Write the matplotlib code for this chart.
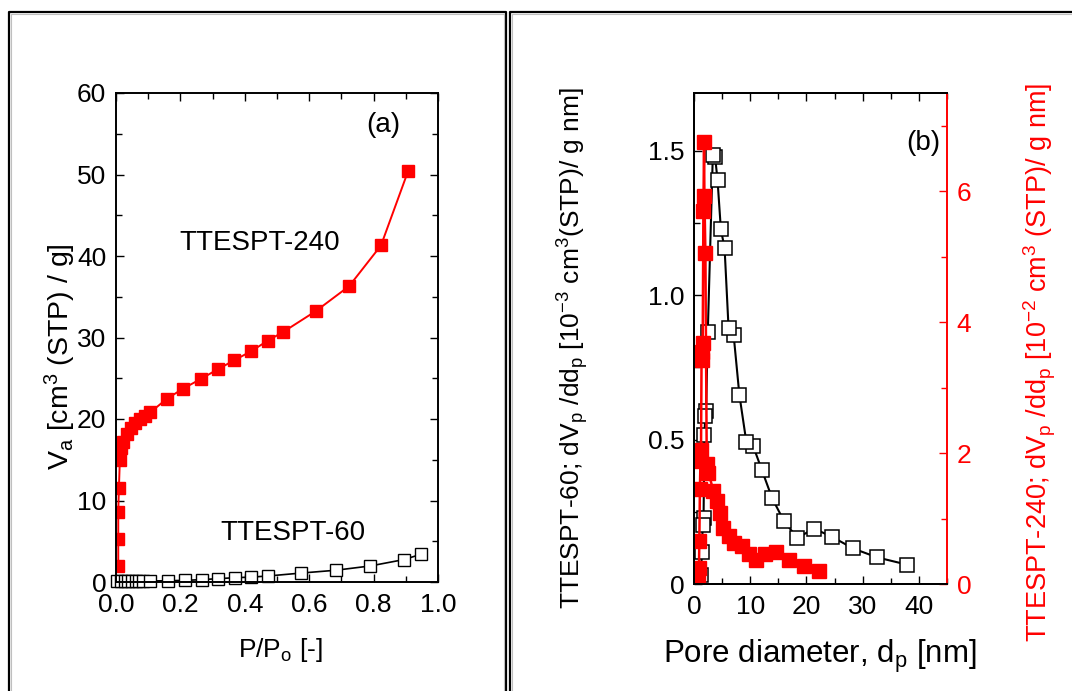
import numpy as np
import matplotlib.pyplot as plt
from matplotlib.lines import Line2D
from matplotlib.ticker import MultipleLocator, FuncFormatter

plt.rcParams['font.family'] = ['Liberation Sans', 'DejaVu Sans']
plt.rcParams['mathtext.fontset'] = 'custom'
plt.rcParams['mathtext.rm'] = 'Liberation Sans'
plt.rcParams['mathtext.it'] = 'Liberation Sans:italic'
plt.rcParams['mathtext.default'] = 'regular'
plt.rcParams['axes.unicode_minus'] = False

# (a) isothermes d'adsorption
p_240 = [0.007, 0.007, 0.007, 0.009, 0.012, 0.017, 0.023, 0.033, 0.048, 0.059, 0.075, 0.09,
         0.106, 0.157, 0.207, 0.263, 0.316, 0.367, 0.419, 0.471, 0.52, 0.621, 0.724, 0.823, 0.907]
va_240 = [2.0, 5.3, 8.6, 11.5, 15.0, 16.4, 17.2, 18.1, 18.9, 19.5, 20.0, 20.4,
          20.8, 22.45, 23.7, 24.9, 26.1, 27.2, 28.3, 29.6, 30.7, 33.25, 36.3, 41.3, 50.4]
p_60 = [0.004, 0.016, 0.027, 0.038, 0.05, 0.061, 0.072, 0.085, 0.106, 0.162, 0.214, 0.266,
        0.318, 0.37, 0.42, 0.473, 0.576, 0.682, 0.79, 0.894, 0.947]
va_60 = [0.1, 0.1, 0.1, 0.1, 0.1, 0.1, 0.12, 0.12, 0.12, 0.16, 0.2, 0.29,
         0.41, 0.53, 0.6, 0.74, 1.1, 1.44, 1.97, 2.75, 3.4]

# (b) distribution de taille de pores
dp_60 = [37.9, 32.6, 28.3, 24.5, 21.3, 18.4, 16.0, 13.9, 12.1, 10.5, 9.3, 8.07, 7.05, 6.15,
         5.44, 4.78, 4.18, 3.76, 3.35, 2.45, 2.15, 2.0, 1.85, 1.7, 1.55, 1.4, 1.25]
psd_60 = [0.067, 0.092, 0.123, 0.164, 0.192, 0.159, 0.218, 0.297, 0.393, 0.479, 0.493, 0.655,
          0.862, 0.885, 1.163, 1.228, 1.40, 1.477, 1.486, 0.871, 0.60, 0.58, 0.515, 0.23,
          0.205, 0.11, 0.03]
dp_240 = [22.3, 19.5, 16.9, 14.5, 12.7, 11.1, 9.7, 8.55, 7.05, 6.15, 5.14, 4.54, 4.06, 3.46,
          2.57, 2.27, 2.03, 1.85, 1.79, 1.67, 1.55, 1.45, 1.35, 1.25, 1.15, 1.05, 0.95, 0.88, 0.77]
psd_240 = [0.20, 0.27, 0.37, 0.49, 0.46, 0.36, 0.46, 0.58, 0.63, 0.74, 0.86, 1.09, 1.27, 1.42,
           1.70, 1.83, 5.05, 5.93, 6.75, 5.69, 3.68, 3.42, 3.55, 2.05, 1.88, 1.45, 0.66, 0.25, 0.05]

W, H = 1072, 691
FS = 20        # annotations
FS_TICK = 19   # graduations
FS_LABEL = 19  # titres d'axes


def fig_line(fig, xs, ys, **kw):
    """Trait en pixels de l'image (origine en haut a gauche)."""
    fig.add_artist(Line2D([x / W for x in xs], [1 - y / H for y in ys], **kw))


def style_axis(ax, color='black'):
    ax.tick_params(which='both', direction='in', labelsize=FS_TICK, width=1.0, colors=color)
    ax.tick_params(which='major', length=6, pad=7)
    ax.tick_params(which='minor', length=4)
    for spine in ax.spines.values():
        spine.set_linewidth(1.4)


fig = plt.figure(figsize=(W / 100, H / 100), dpi=100)

# bordures du tableau
for x0, x1 in [(9, 506), (510, 1085)]:
    fig_line(fig, [x0, x0, x1, x1], [700, 12, 12, 700], color='black', lw=1.6)
    fig_line(fig, [x0 + 2, x0 + 2, x1 - 2, x1 - 2], [700, 14, 14, 700], color='0.75', lw=0.8)

# --- (a)
axA = fig.add_axes([116 / W, 1 - 582 / H, 322 / W, 489 / H])
axA.plot(p_60, va_60, '-s', color='black', lw=1.2, ms=8.5, mfc='white', mec='black', mew=1.0,
         clip_on=False)
axA.plot(p_240, va_240, '-s', color='red', lw=1.4, ms=8.5, mfc='red', mec='red')
axA.set_xlim(0, 1.0)
axA.set_ylim(0, 60)
axA.xaxis.set_major_locator(MultipleLocator(0.2))
axA.xaxis.set_minor_locator(MultipleLocator(0.1))
axA.yaxis.set_major_locator(MultipleLocator(10))
axA.yaxis.set_minor_locator(MultipleLocator(5))
axA.xaxis.set_major_formatter(FuncFormatter(lambda v, _: f'{v:.1f}'))
axA.tick_params(which='both', top=True, right=True)
style_axis(axA)
axA.tick_params(axis='x', which='major', pad=8)
axA.set_xlabel('P/P$_o$ [-]', fontsize=FS_LABEL, va='center')
axA.xaxis.set_label_coords(0.509, -0.139)
axA.set_ylabel('V$_a$ [cm$^3$ (STP) / g]', fontsize=20.5, va='center')
axA.yaxis.set_label_coords(-0.172, 0.462)
axA.text(0.829, 0.935, '(a)', transform=axA.transAxes, fontsize=FS, ha='center', va='center')
axA.text(0.447, 41.6, 'TTESPT-240', fontsize=FS, ha='center', va='center')
axA.text(0.55, 6.0, 'TTESPT-60', fontsize=FS, ha='center', va='center')

# --- (b)
axB = fig.add_axes([694 / W, 1 - 584 / H, 253 / W, 491 / H])
axB2 = axB.twinx()
axB.plot(dp_60, psd_60, '-s', color='black', lw=1.5, ms=9.5, mfc='white', mec='black', mew=1.1)
axB2.plot(dp_240, psd_240, '-s', color='red', lw=1.8, ms=9.5, mfc='red', mec='red')
axB.set_xlim(0, 45)
axB.set_ylim(0, 1.7)
axB2.set_ylim(0, 7.5)
axB.xaxis.set_major_locator(MultipleLocator(10))
axB.xaxis.set_minor_locator(MultipleLocator(5))
axB.yaxis.set_major_locator(MultipleLocator(0.5))
axB.yaxis.set_minor_locator(MultipleLocator(0.25))
axB.yaxis.set_major_formatter(FuncFormatter(lambda v, _: '0' if v == 0 else f'{v:.1f}'))
axB2.yaxis.set_major_locator(MultipleLocator(2))
axB2.yaxis.set_minor_locator(MultipleLocator(1))
axB.tick_params(which='both', top=True, right=False)
style_axis(axB)
style_axis(axB2, color='red')
axB.tick_params(axis='x', which='major', pad=8)
axB2.spines['right'].set_color('red')
axB.spines['right'].set_visible(False)

axB.set_xlabel('Pore diameter, d$_p$ [nm]', fontsize=22.5, va='center')
axB.xaxis.set_label_coords(0.498, -0.147)
axB.set_ylabel('TTESPT-60; dV$_p$ /dd$_p$ [10$^{-3}$ cm$^3$(STP)/ g nm]', fontsize=FS_LABEL,
               va='center')
axB.yaxis.set_label_coords(-0.478, 0.48)
axB2.set_ylabel('TTESPT-240; dV$_p$ /dd$_p$ [10$^{-2}$ cm$^3$ (STP)/ g nm]', fontsize=19.5,
                color='red', va='center')
axB2.yaxis.set_label_coords(1.368, 0.451)
axB.text(0.905, 0.898, '(b)', transform=axB.transAxes, fontsize=FS, ha='center', va='center')

fig.savefig('out.png', dpi=100)
